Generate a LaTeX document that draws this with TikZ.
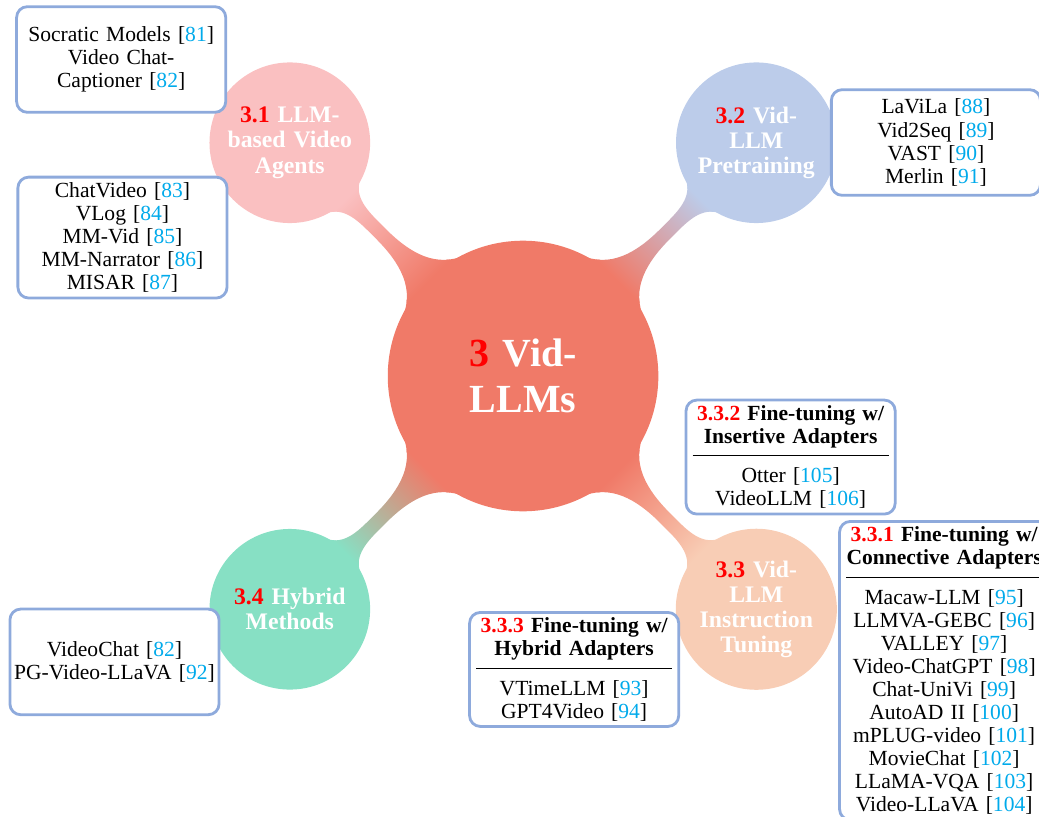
\documentclass[tikz,border=0pt]{standalone}
\usepackage{fontspec}
\setmainfont{Liberation Serif}
\usetikzlibrary{mindmap}
\definecolor{VLLMroot}{RGB}{240,122,104}
\definecolor{VLLMpink}{RGB}{250,192,193}
\definecolor{VLLMblue}{RGB}{188,204,234}
\definecolor{VLLMpeach}{RGB}{248,205,181}
\definecolor{VLLMmint}{RGB}{135,224,196}
\definecolor{VLLMframe}{RGB}{142,170,220}
\definecolor{VLLMcite}{RGB}{0,170,235}
\tikzstyle{VLLMmain}=[concept, concept color=VLLMroot, minimum size=124.3pt, inner sep=0pt, text width=60pt, align=center, text=white, font=\rmfamily\fontsize{18.5}{21.5}\selectfont\bfseries]
\tikzstyle{VLLMsub}=[concept, minimum size=73.3pt, inner sep=0pt, text width=58pt, align=center, text=white, font=\rmfamily\fontsize{11}{11.7}\selectfont\bfseries]
\tikzstyle{VLLMbox}=[draw=VLLMframe, line width=1.3pt, rounded corners=5pt, fill=white, text=black, text width=95pt, minimum height=49pt, inner xsep=1pt, inner ysep=2.5pt, align=center, font=\rmfamily\fontsize{10}{10.7}\selectfont]
\newcommand{\citeno}[1]{[\textcolor{VLLMcite}{#1}]}
\newcommand{\secno}[1]{\textcolor{red}{#1}}
\newcommand{\boxrule}{\\[-4.7pt]\rule{91pt}{0.5pt}\\[1.5pt]}

\begin{document}
\begin{tikzpicture}
    \useasboundingbox (-242.6pt,-204.5pt) rectangle (239.3pt,174.4pt);
    % centre and the four sections
    \begin{scope}[mindmap]
        \node [VLLMmain] (vllm) at (0,0) {\secno{3} Vid-\\LLMs};
        \node [VLLMsub, concept color=VLLMpink] (agents) at (135:153pt) {\secno{3.1} LLM-\\based Video\\Agents};
        \node [VLLMsub, concept color=VLLMblue] (pretrain) at (45:153pt) {\secno{3.2} Vid-\\LLM\\Pretraining};
        \node [VLLMsub, concept color=VLLMpeach] (tuning) at (-45:153pt) {\secno{3.3} Vid-\\LLM\\Instruction\\Tuning};
        \node [VLLMsub, concept color=VLLMmint] (hybrid) at (-135:153pt) {\secno{3.4} Hybrid\\Methods};
        \path (vllm) to[circle connection bar switch color=from (VLLMroot) to (VLLMpink)] (agents);
        \path (vllm) to[circle connection bar switch color=from (VLLMroot) to (VLLMblue)] (pretrain);
        \path (vllm) to[circle connection bar switch color=from (VLLMroot) to (VLLMpeach)] (tuning);
        \path (vllm) to[circle connection bar switch color=from (VLLMroot) to (VLLMmint)] (hybrid);
    \end{scope}
    % paper lists
    \node [VLLMbox] (socratic) at (-186.4pt,146.8pt) {Socratic Models \citeno{81}\\Video Chat-\\Captioner \citeno{82}};
    \node [VLLMbox] (chatvideo) at (-185.8pt,64.2pt) {ChatVideo \citeno{83}\\VLog \citeno{84}\\MM-Vid \citeno{85}\\MM-Narrator \citeno{86}\\MISAR \citeno{87}};
    \node [VLLMbox] (lavila) at (191.5pt,108.3pt) {LaViLa \citeno{88}\\Vid2Seq \citeno{89}\\VAST \citeno{90}\\Merlin \citeno{91}};
    \node [VLLMbox] (insertive) at (124.1pt,-37.6pt) {\textbf{\secno{3.3.2} Fine-tuning w/\\Insertive Adapters}\boxrule Otter \citeno{105}\\VideoLLM \citeno{106}};
    \node [VLLMbox, anchor=north] (connective) at (195.3pt,-66.8pt) {\textbf{\secno{3.3.1} Fine-tuning w/\\Connective Adapters}\boxrule Macaw-LLM \citeno{95}\\LLMVA-GEBC \citeno{96}\\VALLEY \citeno{97}\\Video-ChatGPT \citeno{98}\\Chat-UniVi \citeno{99}\\AutoAD II \citeno{100}\\mPLUG-video \citeno{101}\\MovieChat \citeno{102}\\LLaMA-VQA \citeno{103}\\Video-LLaVA \citeno{104}};
    \node [VLLMbox] (hybridbox) at (23.7pt,-136.1pt) {\textbf{\secno{3.3.3} Fine-tuning w/\\Hybrid Adapters}\boxrule VTimeLLM \citeno{93}\\GPT4Video \citeno{94}};
    \node [VLLMbox] (videochat) at (-189.5pt,-132.6pt) {VideoChat \citeno{82}\\PG-Video-LLaVA \citeno{92}};
\end{tikzpicture}
\end{document}
